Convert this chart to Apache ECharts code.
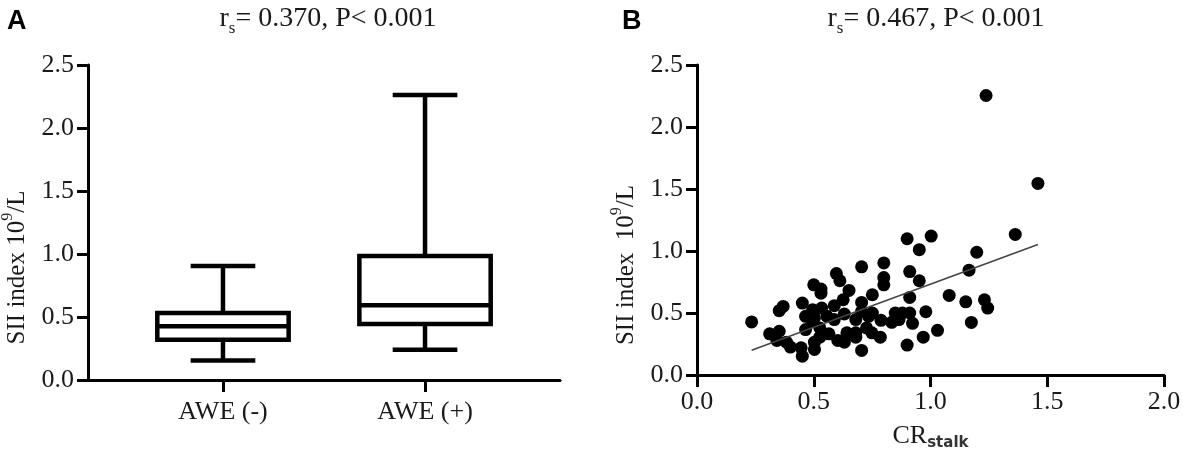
<!DOCTYPE html>
<html>
<head>
<meta charset="utf-8">
<script src="https://cdn.jsdelivr.net/npm/echarts@6/dist/echarts.min.js"></script>
<style>html,body{margin:0;padding:0;background:#fff;}#c{width:1183px;height:462px;}</style>
</head>
<body>
<div id="c"></div>
<script>
// Panel A: box plot (min, Q1, median, Q3, max)
const groupLabels = ['AWE (-)', 'AWE (+)'];
const groupPos = [1, 2];
const boxMin = [0.155, 0.240];
const boxQ1 = [0.320, 0.444];
const boxMed = [0.427, 0.594];
const boxQ3 = [0.532, 0.985];
const boxMax = [0.905, 2.262];

// Panel B: scatter CR_stalk vs SII index
const crStalk = [0.234,1.238,1.46,1.363,1.003,0.9,0.952,1.198,0.705,0.8,0.597,0.612,0.8,0.8,0.911,0.952,0.5,0.531,0.531,0.651,0.751,1.165,1.08,0.911,1.151,1.231,1.245,1.175,0.98,1.03,0.969,0.9,0.923,0.911,0.849,0.834,0.788,0.751,0.705,0.705,0.68,0.726,0.785,0.705,0.68,0.631,0.603,0.565,0.526,0.503,0.503,0.451,0.446,0.4,0.383,0.342,0.352,0.311,0.352,0.369,0.451,0.465,0.495,0.534,0.588,0.626,0.631,0.495,0.526,0.465,0.503,0.68,0.642,0.735,0.865,0.88,0.749,0.557,0.588];
const siiIndex = [0.428,2.254,1.545,1.134,1.12,1.099,1.011,0.99,0.872,0.904,0.818,0.76,0.786,0.727,0.834,0.76,0.727,0.693,0.66,0.682,0.647,0.845,0.642,0.626,0.59,0.607,0.54,0.424,0.51,0.36,0.305,0.241,0.417,0.5,0.5,0.425,0.441,0.5,0.585,0.513,0.447,0.38,0.305,0.198,0.305,0.265,0.278,0.332,0.305,0.206,0.265,0.152,0.219,0.225,0.265,0.278,0.353,0.332,0.519,0.553,0.58,0.473,0.527,0.54,0.559,0.607,0.492,0.433,0.38,0.366,0.46,0.34,0.34,0.473,0.447,0.5,0.34,0.473,0.447];
const fitX = [0.234, 1.46];
const fitY = [0.200, 1.053];
const yTicks = [0, 0.5, 1.0, 1.5, 2.0, 2.5];
const xTicksB = [0, 0.5, 1.0, 1.5, 2.0];

const serif = '"Liberation Serif","Times New Roman",serif';
const txt = '#1a1a1a';
const boxData = groupPos.map((p, i) => [p, boxMin[i], boxQ1[i], boxMed[i], boxQ3[i], boxMax[i]]);
const scatterData = crStalk.map((x, i) => [x, siiIndex[i]]);
const fitData = fitX.map((x, i) => [x, fitY[i]]);

const axisLineStyle = {show: true, lineStyle: {color: '#000', width: 3}};
function yAxisCfg(gridIndex, name) {
  return {
    type: 'value', gridIndex: gridIndex, min: 0, max: 2.5, interval: 0.5,
    axisLine: axisLineStyle,
    axisTick: {show: true, length: 11, lineStyle: {color: '#000', width: 3}},
    splitLine: {show: false},
    axisLabel: {color: txt, fontFamily: serif, fontSize: 26, margin: 14, formatter: v => v.toFixed(1)},
    name: name, nameLocation: 'middle', nameGap: 54, nameRotate: 90,
    nameTextStyle: {color: txt, fontFamily: serif, fontSize: 25, lineHeight: 34, padding: [0, 90, 0, 0],
      rich: {sup: {fontSize: 16, fontFamily: serif, color: txt, verticalAlign: 'top', lineHeight: 16}}}
  };
}

const option = {
  animation: false,
  title: [
    {text: 'A', left: 2, top: 3, textStyle: {fontFamily: '"Liberation Sans",Arial,sans-serif', fontWeight: 'bold', fontSize: 27, color: '#000'}},
    {text: 'B', left: 617, top: 3, textStyle: {fontFamily: '"Liberation Sans",Arial,sans-serif', fontWeight: 'bold', fontSize: 27, color: '#000'}},
    {text: 'r{s|s}= 0.370, P< 0.001', left: 323, textAlign: 'center', top: -4,
      textStyle: {fontFamily: serif, fontSize: 28, color: txt, fontWeight: 'normal', lineHeight: 36,
        rich: {s: {fontFamily: serif, fontSize: 17, color: txt, verticalAlign: 'bottom', lineHeight: 17}}}},
    {text: 'r{s|s}= 0.467, P< 0.001', left: 931, textAlign: 'center', top: -4,
      textStyle: {fontFamily: serif, fontSize: 28, color: txt, fontWeight: 'normal', lineHeight: 36,
        rich: {s: {fontFamily: serif, fontSize: 17, color: txt, verticalAlign: 'bottom', lineHeight: 17}}}}
  ],
  grid: [
    {left: 88, right: 623, top: 65, bottom: 82, outerBoundsMode: 'none', containLabel: false},
    {left: 697, right: 19, top: 65, bottom: 87, outerBoundsMode: 'none', containLabel: false}
  ],
  xAxis: [
    {type: 'value', gridIndex: 0, min: 0.332, max: 2.668,
      axisLine: axisLineStyle,
      axisTick: {show: true, length: 12, customValues: groupPos, lineStyle: {color: '#000', width: 3}},
      axisLabel: {color: txt, fontFamily: serif, fontSize: 26, margin: 19, customValues: groupPos,
        formatter: v => groupLabels[groupPos.indexOf(Math.round(v))] || ''},
      splitLine: {show: false}},
    {type: 'value', gridIndex: 1, min: 0, max: 2, interval: 0.5,
      axisLine: axisLineStyle,
      axisTick: {show: true, length: 12, lineStyle: {color: '#000', width: 3}},
      axisLabel: {color: txt, fontFamily: serif, fontSize: 26, margin: 14, formatter: v => v.toFixed(1)},
      splitLine: {show: false},
      name: 'CR{sub|stalk}', nameLocation: 'middle', nameGap: 46,
      nameTextStyle: {color: txt, fontFamily: serif, fontSize: 26, lineHeight: 30,
        rich: {sub: {fontFamily: '"DejaVu Sans",sans-serif', fontWeight: 'bold', fontSize: 15, color: '#333', verticalAlign: 'bottom', lineHeight: 15}}}}
  ],
  yAxis: [
    yAxisCfg(0, 'SII index 10{sup|9}/L'),
    yAxisCfg(1, 'SII index  10{sup|9}/L')
  ],
  series: [
    {
      type: 'custom', xAxisIndex: 0, yAxisIndex: 0, data: boxData,
      encode: {x: 0, y: [1, 2, 3, 4, 5]},
      renderItem: function (params, api) {
        const x = api.value(0);
        const boxHalf = api.size([0.65, 0])[0] / 2;
        const capHalf = api.size([0.32, 0])[0] / 2;
        const pMin = api.coord([x, api.value(1)]);
        const pQ1 = api.coord([x, api.value(2)]);
        const pMed = api.coord([x, api.value(3)]);
        const pQ3 = api.coord([x, api.value(4)]);
        const pMax = api.coord([x, api.value(5)]);
        const st = {stroke: '#000', lineWidth: 4.5, fill: null};
        const cx = pMed[0];
        return {
          type: 'group',
          children: [
            {type: 'line', shape: {x1: cx, y1: pMax[1], x2: cx, y2: pQ3[1]}, style: st},
            {type: 'line', shape: {x1: cx, y1: pQ1[1], x2: cx, y2: pMin[1]}, style: st},
            {type: 'line', shape: {x1: cx - capHalf, y1: pMax[1], x2: cx + capHalf, y2: pMax[1]}, style: st},
            {type: 'line', shape: {x1: cx - capHalf, y1: pMin[1], x2: cx + capHalf, y2: pMin[1]}, style: st},
            {type: 'rect', shape: {x: cx - boxHalf, y: pQ3[1], width: boxHalf * 2, height: pQ1[1] - pQ3[1]}, style: {stroke: '#000', lineWidth: 4.5, fill: '#fff'}},
            {type: 'line', shape: {x1: cx - boxHalf, y1: pMed[1], x2: cx + boxHalf, y2: pMed[1]}, style: st}
          ]
        };
      }
    },
    {
      type: 'scatter', xAxisIndex: 1, yAxisIndex: 1, data: scatterData,
      symbol: 'circle', symbolSize: 13, itemStyle: {color: '#000', opacity: 1}, z: 2
    },
    {
      type: 'line', xAxisIndex: 1, yAxisIndex: 1, data: fitData,
      symbol: 'none', lineStyle: {color: '#444', width: 1.5}, z: 3
    }
  ]
};
const chart = echarts.init(document.getElementById('c'), null, {renderer: 'canvas'});
chart.setOption(option);
</script>
</body>
</html>
